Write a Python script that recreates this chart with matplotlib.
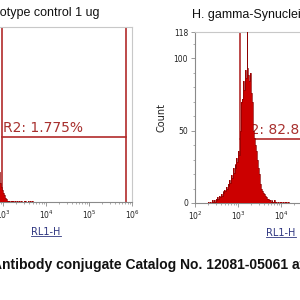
import numpy as np
import matplotlib
matplotlib.use("Agg")
import matplotlib.pyplot as plt
from matplotlib.lines import Line2D
from matplotlib.ticker import FixedLocator, NullFormatter

# ---------------- data ----------------
left_title = "Isotype control 1 ug"
right_title = "H. gamma-Synuclein Antibody 1 ug"
caption = "Antibody conjugate Catalog No. 12081-05061 at 1 ug"
x_label = "RL1-H"
y_label = "Count"

# histogram bins: log10 start and width
bin_start = 2.30
bin_width = 0.02

left_start = 2.70
left_counts = [95, 88, 76, 70, 60, 52, 45, 38, 30, 25, 20, 16, 13, 10, 8, 6,
               5, 3, 2, 2, 1, 1, 1, 0, 1, 0, 1, 1, 0, 1, 0, 1, 0, 0, 1, 0,
               1, 0, 0, 1, 0, 1, 0, 0, 1, 0, 1, 0, 0, 1]

right_counts = [1, 0, 1, 1, 0, 2, 1, 2, 1, 3, 2, 4, 3, 5, 4, 6, 5, 8, 7, 9,
                8, 11, 10, 13, 12, 16, 14, 19, 17, 24, 21, 27, 24, 31, 28, 36,
                33, 50, 62, 70, 72, 84, 78, 92, 86, 135, 93, 88, 84, 90, 76,
                70, 58, 50, 45, 40, 36, 30, 24, 20, 16, 13, 10, 8, 7, 6, 5, 4,
                4, 3, 3, 2, 2, 1, 2, 1, 1, 2, 1, 1, 0, 1, 1, 0, 1, 1, 0, 1, 1,
                0, 1, 1, 0, 1]

left_gate = (2.97, 5.86)
right_gate = (3.05, 5.86)
gate_count = 44
left_pct = "R2: 1.775%"
right_pct = "R2: 82.83%"

x_decades = [2, 3, 4, 5, 6]
y_ticks = [0, 50, 100, 118]
y_max = 118

# ---------------- style ----------------
gate_color = "#b22a2a"
text_color = "#a8302e"
fill_color = "#cc0000"
edge_color = "#8b0000"
label_color = "#2e3580"

fig = plt.figure(figsize=(3, 3), dpi=100)
W = H = 300.0


def ax_rect(x0, x1, y_top, y_bot):
    return [x0 / W, 1 - y_bot / H, (x1 - x0) / W, (y_bot - y_top) / H]


axL = fig.add_axes(ax_rect(-40, 132, 27, 202))
axR = fig.add_axes(ax_rect(195, 367, 32, 203))


def style_axes(ax):
    ax.set_xscale("log")
    ax.set_xlim(10 ** x_decades[0], 10 ** x_decades[-1])
    ax.set_ylim(0, y_max)
    for s in ("top", "right"):
        ax.spines[s].set_color("#c8c8c8")
        ax.spines[s].set_linewidth(0.8)
    for s in ("left", "bottom"):
        ax.spines[s].set_color("#8a8a8a")
        ax.spines[s].set_linewidth(0.8)
    ax.set_xticks([10.0 ** d for d in x_decades])
    ax.set_xticklabels([r"$10^{%d}$" % d for d in x_decades])
    minors = [m * 10.0 ** d for d in x_decades[:-1] for m in range(2, 10)]
    ax.xaxis.set_minor_locator(FixedLocator(minors))
    ax.xaxis.set_minor_formatter(NullFormatter())
    ax.set_yticks(y_ticks)
    ax.yaxis.set_minor_locator(FixedLocator(list(range(10, 118, 10))))
    ax.tick_params(axis="both", which="major", length=3, width=0.6,
                   color="#8a8a8a", labelsize=5.5, labelcolor="#222222", pad=2)
    ax.tick_params(axis="both", which="minor", length=1.5, width=0.5,
                   color="#8a8a8a")
    ax.set_xlabel(x_label, fontsize=7, color=label_color, labelpad=4)
    ax.set_ylabel(y_label, fontsize=7, color="#222222", labelpad=5)


def draw_hist(ax, start, counts):
    n = len(counts)
    edges = 10 ** (start + bin_width * np.arange(n + 1))
    ax.stairs(counts, edges, fill=True, color=fill_color, zorder=3)
    ax.stairs(counts, edges, fill=False, color=edge_color, lw=0.5, zorder=4)


def draw_gate(ax, gate, label):
    lo, hi = 10 ** gate[0], 10 ** gate[1]
    ax.axvline(lo, color=gate_color, lw=1.2, zorder=2)
    ax.axvline(hi, color=gate_color, lw=1.2, zorder=2)
    ax.plot([lo, hi], [gate_count, gate_count], color=gate_color, lw=1.2,
            zorder=2)
    ax.text(10 ** (gate[0] + 0.02), gate_count + 3.5, label, fontsize=10,
            color=text_color, va="baseline", ha="left", zorder=2,
            family="DejaVu Sans")


for ax in (axL, axR):
    style_axes(ax)

draw_hist(axL, left_start, left_counts)
draw_hist(axR, bin_start, right_counts)
draw_gate(axL, left_gate, left_pct)
draw_gate(axR, right_gate, right_pct)

fig.text(-9.8 / W, 1 - 13 / H, left_title, fontsize=9,
         family="Liberation Sans", va="center", ha="left", color="#111111")
fig.text(192 / W, 1 - 15 / H, right_title, fontsize=9,
         family="Liberation Sans", va="center", ha="left", color="#111111")
fig.text(-8 / W, 1 - 265 / H, caption, fontsize=10, fontweight="bold",
         family="Liberation Sans", va="center", ha="left", color="#111111")

# underline the x labels
fig.canvas.draw()
renderer = fig.canvas.get_renderer()
for ax in (axL, axR):
    bb = ax.xaxis.label.get_window_extent(renderer)
    y = bb.y0 + 1
    fig.add_artist(Line2D([bb.x0 / W, bb.x1 / W], [y / H, y / H],
                          color=label_color, lw=0.6))

fig.savefig("out.png", dpi=100)
